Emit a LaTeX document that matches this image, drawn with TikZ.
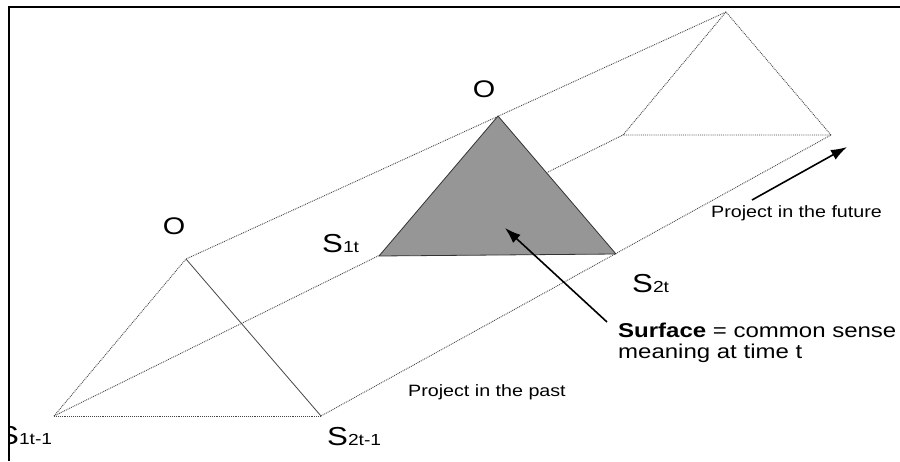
\documentclass[tikz,border=0pt]{standalone}
\usepackage{fontspec}
\setmainfont{Liberation Sans}[FakeStretch=1.2]
\usepackage{xcolor}
\usetikzlibrary{arrows.meta}

\definecolor{surfgray}{RGB}{150,150,150}
\definecolor{edgegray}{RGB}{70,70,70}

\newcommand{\slab}[1]{{\fontsize{26}{26}\selectfont S}{\fontsize{16}{16}\selectfont #1}}

\begin{document}
\begin{tikzpicture}[
  x=1pt, y=-1pt,
  edge/.style={line width=0.9pt, draw=edgegray, densely dotted},
  ridge/.style={line width=0.8pt, draw=edgegray},
  surface/.style={fill=surfgray, draw=black!80, line width=0.8pt, line join=round},
  apex/.style={inner sep=0pt, anchor=base, font=\fontsize{24}{24}\selectfont},
  vertex/.style={inner sep=0pt, anchor=base west},
  note/.style={inner sep=0pt, anchor=base west, font=\fontsize{16.4}{18}\selectfont},
  arrow/.style={-{Latex[length=16pt,width=11pt]}, line width=1.6pt}
]
\useasboundingbox (0,0) rectangle (900,461);
\begin{scope}
\clip (9,7) rectangle (900,461);
\coordinate (op) at (186,259);
\coordinate (sa) at (54,416);
\coordinate (sb) at (321,416);
\coordinate (on) at (498,116);
\coordinate (s1) at (379,256);
\coordinate (s2) at (616,254);
\coordinate (of) at (726,12);
\coordinate (fa) at (623,135);
\coordinate (fb) at (831,135);

\draw[edge] (op) -- (of);
\draw[edge] (sa) -- (fa);
\draw[edge] (sb) -- (fb);
\draw[edge] (sa) -- (op);
\draw[ridge] (op) -- (sb);
\draw[edge] (sa) -- (sb);
\draw[edge] (fa) -- (of) -- (fb) -- cycle;
\draw[surface] (on) -- (s1) -- (s2) -- cycle;

\node[apex] (opl) at (174,234.3) {O};
\node[apex] (onl) at (484,97.3) {O};
\node[vertex] (s1l) at (322,252) {\slab{1t}};
\node[vertex] (s2l) at (632,292) {\slab{2t}};
\node[vertex] (sal) at (-2,444) {\slab{1t-1}};
\node[vertex] (sbl) at (327,445) {\slab{2t-1}};

\node[note] (fut) at (711,217) {Project in the future};
\node[note] (past) at (408,396) {Project in the past};
\node[note, anchor=north west, align=left, font=\fontsize{20}{21}\selectfont] (surf) at (618,322.5) {\textbf{Surface} = common sense\\meaning at time t};

\coordinate (ft) at (752,200);
\coordinate (fh) at (847,147);
\coordinate (st) at (607,322);
\coordinate (sh) at (505,228);
\draw[arrow] (ft) -- (fh);
\draw[arrow] (st) -- (sh);
\end{scope}
\draw[line width=2pt] (9,461) -- (9,7) -- (900,7);
\end{tikzpicture}
\end{document}
